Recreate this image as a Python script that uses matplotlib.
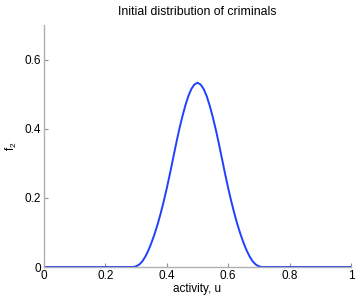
import matplotlib
matplotlib.use('Agg')
import matplotlib.pyplot as plt

# activity values and f2
u = [0.0, 0.28, 0.29, 0.30, 0.31, 0.32, 0.33, 0.34, 0.35, 0.36, 0.37, 0.38,
     0.39, 0.40, 0.41, 0.42, 0.43, 0.44, 0.45, 0.46, 0.47, 0.48, 0.49, 0.50,
     0.51, 0.52, 0.53, 0.54, 0.55, 0.56, 0.57, 0.58, 0.59, 0.60, 0.61, 0.62,
     0.63, 0.64, 0.65, 0.66, 0.67, 0.68, 0.69, 0.70, 0.71, 0.72, 1.0]
f2 = [0.0, 0.0, 0.0, 0.002, 0.007, 0.016, 0.030, 0.048, 0.070, 0.095, 0.123, 0.155,
      0.190, 0.228, 0.269, 0.312, 0.355, 0.396, 0.433, 0.466, 0.494, 0.515, 0.528, 0.533,
      0.528, 0.515, 0.494, 0.466, 0.433, 0.396, 0.355, 0.312, 0.269, 0.228, 0.190, 0.155,
      0.123, 0.095, 0.070, 0.048, 0.030, 0.016, 0.007, 0.002, 0.0, 0.0, 0.0]

xticks = [0, 0.2, 0.4, 0.6, 0.8, 1]
yticks = [0, 0.2, 0.4, 0.6]

plt.rcParams['font.family'] = ['Liberation Sans', 'DejaVu Sans']
plt.rcParams['mathtext.fontset'] = 'custom'
plt.rcParams['mathtext.rm'] = 'Liberation Sans'
plt.rcParams['mathtext.it'] = 'Liberation Sans'

fig = plt.figure(figsize=(3.57, 2.98), dpi=100)
ax = fig.add_axes([44/357, 31/298, 307/357, 242/298])

ax.plot(u, f2, color='#2040ff', linewidth=1.4)

ax.set_xlim(0, 1)
ax.set_ylim(0, 0.7)
ax.set_xticks(xticks)
ax.set_xticklabels(['0', '0.2', '0.4', '0.6', '0.8', '1'])
ax.set_yticks(yticks)
ax.set_yticklabels(['0', '0.2', '0.4', '0.6'])

for side in ['top', 'right']:
    ax.spines[side].set_visible(False)
for side in ['left', 'bottom']:
    ax.spines[side].set_color('#b0b0b0')
    ax.spines[side].set_linewidth(1.0)
ax.tick_params(direction='in', length=3, color='#909090', labelsize=8.5, pad=2)

ax.set_title('Initial distribution of criminals', fontsize=8.8, pad=7)
ax.set_xlabel('activity, u', fontsize=8.5, labelpad=1)
ax.set_ylabel('f$_2$', fontsize=8.5, labelpad=4)

fig.savefig('out.png', dpi=100)
